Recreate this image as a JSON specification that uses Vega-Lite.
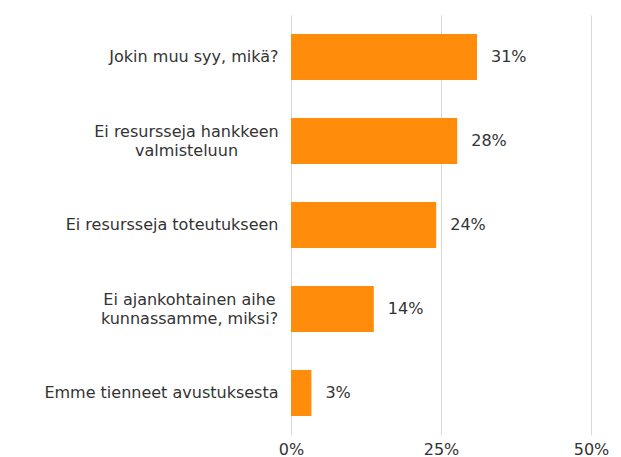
{
  "$schema": "https://vega.github.io/schema/vega-lite/v6.json",
  "width": 300,
  "height": 420,
  "autosize": {"type": "none"},
  "padding": {"left": 291, "top": 15, "right": 30, "bottom": 22},
  "background": "white",
  "config": {
    "view": {"stroke": null},
    "font": "DejaVu Sans",
    "axis": {"labelFont": "DejaVu Sans", "labelColor": "#333333"}
  },
  "data": {
    "values": [
      {"syy": "Jokin muu syy, mikä?", "osuus": 0.31},
      {"syy": "Ei resursseja hankkeen|valmisteluun", "osuus": 0.277},
      {"syy": "Ei resursseja toteutukseen", "osuus": 0.242},
      {"syy": "Ei ajankohtainen aihe|kunnassamme, miksi?", "osuus": 0.138},
      {"syy": "Emme tienneet avustuksesta", "osuus": 0.034}
    ]
  },
  "encoding": {
    "y": {
      "field": "syy",
      "type": "nominal",
      "sort": null,
      "title": null,
      "scale": {"paddingInner": 0.45, "paddingOuter": 0.225},
      "axis": {
        "domain": false,
        "ticks": false,
        "labelExpr": "split(datum.value, '|')",
        "labelFontSize": 16,
        "labelLineHeight": 19,
        "labelLimit": 300,
        "labelAlign": {"condition": {"test": "indexof(datum.value, '|') >= 0", "value": "center"}, "value": "right"},
        "labelPadding": {"condition": [
          {"test": "indexof(datum.value, 'hankkeen') >= 0", "value": 105},
          {"test": "indexof(datum.value, 'ajankohtainen') >= 0", "value": 102}
        ], "value": 13},
        "labelOffset": {"condition": {"test": "indexof(datum.value, '|') >= 0", "value": -9}, "value": 0}
      }
    },
    "x": {
      "field": "osuus",
      "type": "quantitative",
      "title": null,
      "scale": {"domain": [0, 0.5]},
      "axis": {
        "values": [0, 0.25, 0.5],
        "format": ".0%",
        "domain": false,
        "ticks": false,
        "grid": true,
        "gridColor": "#d9d9d9",
        "gridWidth": 1,
        "labelFlush": false,
        "labelFontSize": 16,
        "labelPadding": 6
      }
    }
  },
  "layer": [
    {"mark": {"type": "bar", "color": "#FF8C0A"}},
    {
      "mark": {"type": "text", "align": "left", "dx": 14, "fontSize": 16, "color": "#333333", "font": "DejaVu Sans"},
      "encoding": {"text": {"field": "osuus", "type": "quantitative", "format": ".0%"}}
    }
  ]
}
